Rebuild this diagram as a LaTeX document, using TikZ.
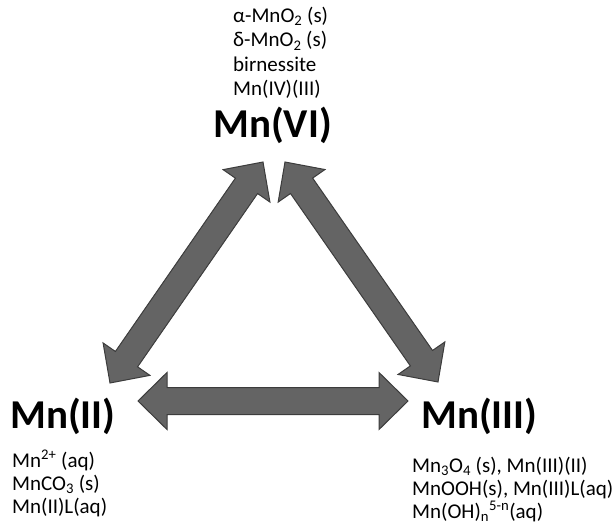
\documentclass[tikz,border=0pt]{standalone}
\usepackage{fontspec}
\setmainfont{Carlito}
\usetikzlibrary{calc}
\definecolor{arrowfill}{RGB}{100,100,100}
\definecolor{arrowline}{RGB}{60,60,60}
\tikzset{
  blockarr/.style={fill=arrowfill, draw=arrowline, line width=1pt, line join=miter},
  big/.style={font=\fontsize{41}{46}\selectfont\bfseries, anchor=base west, inner sep=0pt},
  lst/.style={font=\fontsize{21}{23}\selectfont, align=left, anchor=base west, inner sep=0pt},
  lsttop/.style={lst, font=\fontsize{21}{24.5}\selectfont},
}
\newcommand\blockarrow[3]{%
  \coordinate (#3ha) at ($(#1)!29pt!(#2)$);
  \coordinate (#3hb) at ($(#2)!29pt!(#1)$);
  \filldraw[blockarr] (#1)
    -- ($(#3ha)!28.5pt!90:(#2)$)
    -- ($(#3ha)!13.5pt!90:(#2)$)
    -- ($(#3hb)!13.5pt!-90:(#1)$)
    -- ($(#3hb)!28.5pt!-90:(#1)$)
    -- (#2)
    -- ($(#3hb)!28.5pt!90:(#1)$)
    -- ($(#3hb)!13.5pt!90:(#1)$)
    -- ($(#3ha)!13.5pt!-90:(#2)$)
    -- ($(#3ha)!28.5pt!-90:(#2)$)
    -- cycle;}
\begin{document}
\begin{tikzpicture}[x=1pt, y=-1pt]
\useasboundingbox (0,0) rectangle (615,526);
% labels
\node[big] (mn6) at (213,138) {Mn(VI)};
\node[big] (mn2) at (10,428) {Mn(II)};
\node[big] (mn3) at (421,428) {Mn(III)};
\node[lsttop] (l6) at (233,96) {α-MnO\textsubscript{2} (s)\\ δ-MnO\textsubscript{2} (s)\\ birnessite\\ Mn(IV)(III)};
\node[lst] (l2) at (12,513) {Mn\textsuperscript{2+} (aq)\\ MnCO\textsubscript{3} (s)\\ Mn(II)L(aq)};
\node[lst] (l3) at (412,518) {Mn\textsubscript{3}O\textsubscript{4} (s), Mn(III)(II)\\ MnOOH(s), Mn(III)L(aq)\\ Mn(OH)\textsubscript{n}\textsuperscript{5-n}(aq)};
% arrow ends
\coordinate (a1) at (110,383);
\coordinate (a2) at (263,162);
\coordinate (b1) at (285,162);
\coordinate (b2) at (438,382);
\coordinate (c1) at (138,401);
\coordinate (c2) at (408,401);
\blockarrow{a1}{a2}{ar1}
\blockarrow{b1}{b2}{ar2}
\blockarrow{c1}{c2}{ar3}
\end{tikzpicture}
\end{document}
